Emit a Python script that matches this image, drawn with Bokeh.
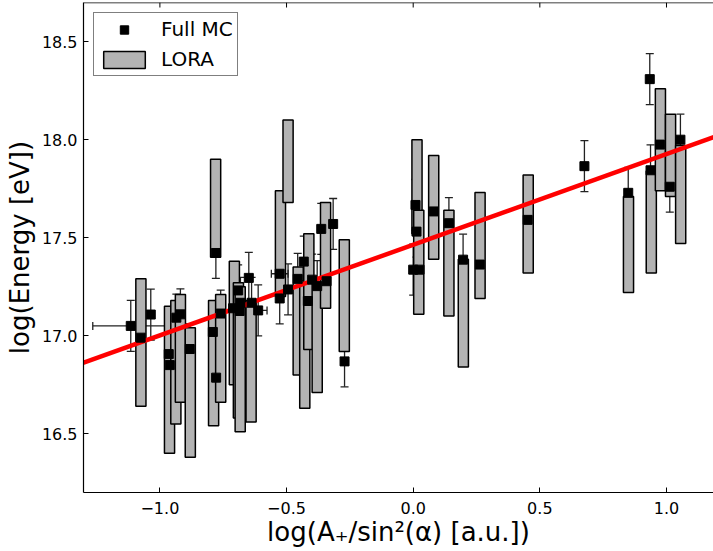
from bokeh.plotting import figure
from bokeh.models import (ColumnDataSource, Range1d, FixedTicker, Span,
                          Whisker, TeeHead, PrintfTickFormatter)
from bokeh.embed import file_html
from bokeh.resources import INLINE

# ---------------- data ----------------
# Full MC reconstructed energies
mc_x = [-1.115, -1.076, -1.036, -0.965, -0.961, -0.935, -0.919, -0.882,
        -0.779, -0.791, -0.778, -0.760, -0.711, -0.691, -0.682, -0.685,
        -0.649, -0.638, -0.612,
        -0.527, -0.527, -0.494, -0.456, -0.432, -0.416, -0.399, -0.379,
        -0.363, -0.342, -0.316, -0.271,
        0.009, 0.013, 0.000, 0.025, 0.081, 0.141, 0.197, 0.263, 0.452,
        0.676, 0.849, 0.934, 0.937, 0.974, 1.013, 1.055]
mc_y = [17.05, 16.99, 17.108, 16.906, 16.85, 17.092, 17.109, 16.932,
        17.422, 17.019, 16.786, 17.113, 17.14, 17.231, 17.168, 17.126,
        17.295, 17.168, 17.129,
        17.316, 17.19, 17.236, 17.29, 17.378, 17.177, 17.286, 17.253,
        17.545, 17.278, 17.57, 16.869,
        17.667, 17.531, 17.337, 17.337, 17.634, 17.574, 17.388, 17.363, 17.591,
        17.865, 17.729, 18.309, 17.844, 17.975, 17.76, 18.0]
mc_yerr = [0.13, 0.13, 0.13, 0.09, 0.12, 0.12, 0.13, 0.13,
           0.13, 0.12, 0.12, 0.12, 0.13, 0.13, 0.13, 0.13,
           0.13, 0.13, 0.13,
           0.13, 0.13, 0.13, 0.13, 0.13, 0.13, 0.13, 0.13,
           0.13, 0.13, 0.13, 0.13,
           0.13, 0.13, 0.13, 0.13, 0.13, 0.13, 0.13, 0.13, 0.13,
           0.13, 0.13, 0.13, 0.13, 0.13, 0.13, 0.13]
# events with a horizontal error bar
hx_x = [-1.115, -0.961, -0.612, -0.527]
hx_y = [17.05, 16.85, 17.129, 17.316]
hx_err = [0.15, 0.02, 0.035, 0.033]

# LORA energy ranges
lora_x = [-1.075, -0.962, -0.937, -0.919, -0.880, -0.788, -0.780, -0.760,
          -0.706, -0.690, -0.683, -0.640,
          -0.524, -0.494, -0.454, -0.428, -0.412, -0.379, -0.346, -0.272,
          0.015, 0.022, 0.081, 0.141, 0.198, 0.264, 0.454,
          0.850, 0.940, 0.976, 1.016, 1.056]
lora_lo = [16.64, 16.40, 16.55, 16.66, 16.38, 16.54, 17.40, 16.66,
           16.75, 16.58, 16.51, 16.56,
           17.20, 17.68, 16.80, 16.63, 16.93, 16.71, 17.14, 16.92,
           17.52, 17.11, 17.39, 17.10, 16.84, 17.19, 17.32,
           17.22, 17.32, 17.74, 17.71, 17.47]
lora_hi = [17.29, 17.15, 17.18, 17.21, 17.04, 17.18, 17.90, 17.21,
           17.38, 17.27, 17.25, 17.18,
           17.74, 18.10, 17.35, 17.28, 17.52, 17.29, 17.68, 17.49,
           18.00, 17.64, 17.92, 17.64, 17.39, 17.73, 17.82,
           17.71, 17.84, 18.26, 18.13, 17.97]

# linear fit (red line)
fit_slope = 0.4625
fit_intercept = 17.464

x_ticks = [-1.0, -0.5, 0.0, 0.5, 1.0]
x_tick_labels = ["\u22121.0", "\u22120.5", "0.0", "0.5", "1.0"]
y_ticks = [16.5, 17.0, 17.5, 18.0, 18.5]

x_lim = (-1.3016, 1.1856)
y_lim = (16.2, 18.7)

FONT = "DejaVu Sans"
FRAME_W, FRAME_H = 630, 490

# ---------------- figure ----------------
p = figure(frame_width=FRAME_W, frame_height=FRAME_H,
           x_range=Range1d(*x_lim), y_range=Range1d(*y_lim),
           output_backend="svg", toolbar_location=None,
           min_border_left=83, min_border_right=0, min_border_top=2,
           min_border_bottom=10)
p.outline_line_color = None
p.xgrid.visible = False
p.ygrid.visible = False
p.background_fill_color = "white"
p.border_fill_color = "white"

# LORA boxes
p.vbar(x=lora_x, bottom=lora_lo, top=lora_hi, width=0.04,
       fill_color="#b3b3b3", line_color="black", line_width=1.5,
       legend_label="LORA")

# fit line
fx = [x_lim[0] - 0.1, x_lim[1] + 0.1]
fy = [fit_intercept + fit_slope * v for v in fx]
p.line(fx, fy, line_color="#ff0000", line_width=4.5)

# error bars
src = ColumnDataSource(dict(
    x=mc_x, y=mc_y,
    lo=[a - b for a, b in zip(mc_y, mc_yerr)],
    hi=[a + b for a, b in zip(mc_y, mc_yerr)]))
ecol = "#222222"
p.add_layout(Whisker(source=src, base="x", lower="lo", upper="hi",
                     dimension="height", line_color=ecol, line_width=1.3,
                     upper_head=TeeHead(size=8, line_color=ecol, line_width=1.3),
                     lower_head=TeeHead(size=8, line_color=ecol, line_width=1.3)))
hsrc = ColumnDataSource(dict(
    y=hx_y,
    lo=[a - b for a, b in zip(hx_x, hx_err)],
    hi=[a + b for a, b in zip(hx_x, hx_err)]))
p.add_layout(Whisker(source=hsrc, base="y", lower="lo", upper="hi",
                     dimension="width", line_color=ecol, line_width=1.3,
                     upper_head=TeeHead(size=8, line_color=ecol, line_width=1.3),
                     lower_head=TeeHead(size=8, line_color=ecol, line_width=1.3)))

# Full MC markers
p.scatter(x="x", y="y", source=src, marker="square", size=9,
          fill_color="black", line_color="black", legend_label="Full MC")

# top spine with inward ticks
p.add_layout(Span(location=y_lim[1], dimension="width", line_color="black",
                  line_width=1.5))
tick_len = 5.0 / (FRAME_H / (y_lim[1] - y_lim[0]))
p.segment(x0=x_ticks, x1=x_ticks, y0=[y_lim[1]] * len(x_ticks),
          y1=[y_lim[1] - tick_len] * len(x_ticks), line_color="black", line_width=1)

# ---------------- axes ----------------
for ax in (p.xaxis[0], p.yaxis[0]):
    ax.major_tick_in = 5
    ax.major_tick_out = 0
    ax.minor_tick_line_color = None
    ax.axis_line_color = "black"
    ax.axis_line_width = 1.2
    ax.major_tick_line_color = "black"
    ax.major_label_text_font = FONT
    ax.major_label_text_font_size = "16px"
    ax.major_label_text_color = "black"
    ax.axis_label_text_font = FONT
    ax.axis_label_text_font_size = "26px"
    ax.axis_label_text_font_style = "normal"
    ax.axis_label_text_color = "black"

p.xaxis[0].ticker = FixedTicker(ticks=x_ticks)
p.xaxis[0].major_label_overrides = dict(zip(x_ticks, x_tick_labels))
p.xaxis[0].major_label_standoff = 9
p.xaxis[0].axis_label = "log(A\u208a/sin\u00b2(\u03b1) [a.u.])"
p.xaxis[0].axis_label_standoff = 0

p.yaxis[0].ticker = FixedTicker(ticks=y_ticks)
p.yaxis[0].formatter = PrintfTickFormatter(format="%.1f")
p.yaxis[0].major_label_standoff = 6
p.yaxis[0].axis_label = "log(Energy [eV])"
p.yaxis[0].axis_label_standoff = 4

# ---------------- legend ----------------
lg = p.legend[0]
LEG_H = 64
lg.location = (10, FRAME_H - 10 - LEG_H)
lg.margin = 0
lg.padding = 4
lg.spacing = 6
lg.glyph_width = 52
lg.glyph_height = 21
lg.label_standoff = 11
lg.label_height = 24
lg.label_text_font = FONT
lg.label_text_font_size = "20px"
lg.label_text_color = "black"
lg.border_line_color = "black"
lg.border_line_width = 1.3
lg.background_fill_color = "white"
lg.background_fill_alpha = 1.0
lg.items = [lg.items[1], lg.items[0]]

open("out.html", "w").write(file_html(p, INLINE))
